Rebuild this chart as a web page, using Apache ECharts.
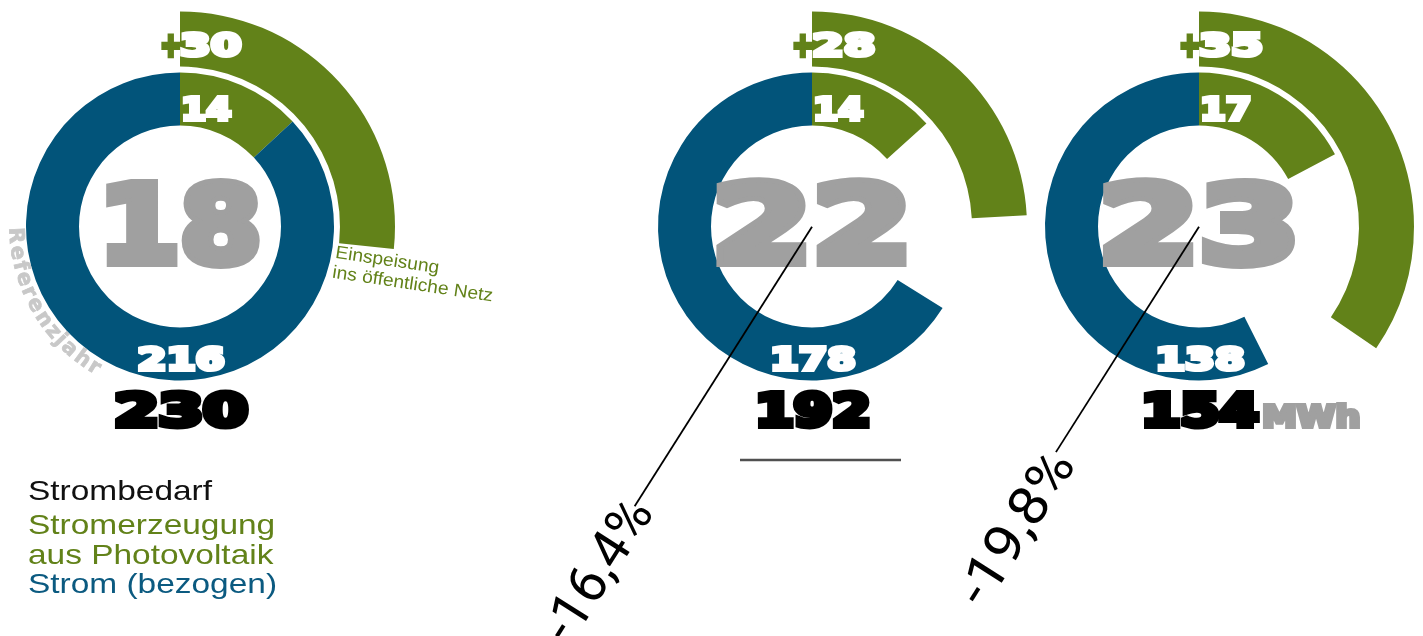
<!DOCTYPE html>
<html>
<head>
<meta charset="utf-8">
<script src="https://cdn.jsdelivr.net/npm/echarts@6/dist/echarts.min.js"></script>
<style>html,body{margin:0;padding:0;background:#fff}#c{width:1423px;height:636px}</style>
</head>
<body>
<div id="c"></div>
<script>
// ---------------- data ----------------
const periodLabels = ['Referenzjahr', '', ''];
const demand      = [230, 192, 154];   // Strombedarf (MWh)
const purchased   = [216, 178, 138];   // Strom (bezogen)
const pvSelfUse   = [14, 14, 17];      // PV-Strom selbst genutzt
const pvFeedIn    = [30, 28, 35];      // Einspeisung ins öffentliche Netz
const centerValue = [18, 22, 23];      // grosse graue Kennzahl
const changeLabels = ['', '-16,4%', '-19,8%'];
const unitLabel = 'MWh';
const feedInLabel = 'Einspeisung\nins öffentliche Netz';
const legendLines = ['Strombedarf', 'Stromerzeugung', 'aus Photovoltaik', 'Strom (bezogen)'];
// arc extents as drawn in the picture (degrees, clockwise from 12 o'clock)
const pvSelfUseArc = [47, 48, 62];
const purchasedArc = [313, 238, 206.7];
const pvFeedInArc  = [96, 87, 124.5];

// ---------------- layout / style ----------------
const CX = [180, 812, 1199], CY = 226.5;
const R_IN = [101, 154], R_OUT = [160, 215];
const BLUE = '#02547a', GREEN = '#628219', GRAY = '#a0a0a0', NONE = 'rgba(0,0,0,0)';
const HEAVY = '"DejaVu Sans"';

const mctx = document.createElement('canvas').getContext('2d');
function tw(text, font) { mctx.font = font; return mctx.measureText(text).width; }

const els = [];
// heavy "extended black" look: DejaVu Sans Bold + same-colour outline, stretched to width
function heavy(text, x, capCenterY, size, targetW, color, align, border, z) {
  const font = 'bold ' + size + 'px ' + HEAVY;
  const w = tw(text, font) + border;
  els.push({
    type: 'text', x: x, y: capCenterY + 0.085 * size, scaleX: targetW ? targetW / w : 1, z: z || 10, silent: true,
    style: { text: text, font: font, fill: color, stroke: color, lineWidth: border, lineJoin: 'round',
      align: align, textAlign: align, verticalAlign: 'middle', textVerticalAlign: 'middle' }
  });
}

const series = [];
for (let i = 0; i < 3; i++) {
  series.push({
    type: 'pie', center: [CX[i], CY], radius: R_IN, startAngle: 90, clockwise: true,
    silent: true, animation: false, label: { show: false }, labelLine: { show: false },
    emphasis: { disabled: true }, itemStyle: { borderWidth: 0 }, z: 2,
    data: [
      { name: 'PV', value: pvSelfUseArc[i], itemStyle: { color: GREEN } },
      { name: 'gap', value: 360 - pvSelfUseArc[i] - purchasedArc[i], itemStyle: { color: NONE } },
      { name: 'bezogen', value: purchasedArc[i], itemStyle: { color: BLUE } }
    ]
  });
  series.push({
    type: 'pie', center: [CX[i], CY], radius: R_OUT, startAngle: 90, clockwise: true,
    silent: true, animation: false, label: { show: false }, labelLine: { show: false },
    emphasis: { disabled: true }, itemStyle: { borderWidth: 0 }, z: 2,
    data: [
      { name: 'Einspeisung', value: pvFeedInArc[i], itemStyle: { color: GREEN } },
      { name: 'rest', value: 360 - pvFeedInArc[i], itemStyle: { color: NONE } }
    ]
  });
}

// label sizes (target widths of the extended heavy face)
const bigW = [174, 214, 215];
const selfW = [55, 55, 56];
const purW = [93, 91, 95];
const demW = [142, 123, 125];
const feedW = [67, 69, 70];

for (let i = 0; i < 3; i++) {
  heavy(String(centerValue[i]), CX[i], 225, 107, bigW[i], GRAY, 'center', 10, 10);
  heavy(String(pvSelfUse[i]), CX[i] + 1, 109, 32, selfW[i], '#fff', 'left', 4, 11);
  heavy(String(purchased[i]), CX[i] + 1, 359, 32, purW[i], '#fff', 'center', 4, 11);
  heavy(String(demand[i]), CX[i] + 1, 411, 44, demW[i], '#000', 'center', 6, 11);
  heavy('+', CX[i] + 1, 45, 32, 24, GREEN, 'right', 4.5, 11);
  heavy(String(pvFeedIn[i]), CX[i], 45, 32, feedW[i], '#fff', 'left', 4, 11);
}
heavy(unitLabel, 1262, 416.5, 31, 103, GRAY, 'left', 4, 11);

// Referenzjahr along the arc
(function () {
  const txt = periodLabels[0];
  const font = 'bold 21px ' + HEAVY;
  const chars = [...txt];
  const ws = chars.map(c => tw(c, font));
  let acc = 0;
  const cs = ws.map(w => { const c = acc + w / 2; acc += w; return c; });
  const p0 = 266.9, p1 = 211.3, r = 165;
  chars.forEach((ch, k) => {
    const t = (cs[k] - cs[0]) / (cs[cs.length - 1] - cs[0]);
    const phi = (p0 + (p1 - p0) * t) * Math.PI / 180;
    els.push({
      type: 'text', x: CX[0] + r * Math.sin(phi), y: CY - r * Math.cos(phi),
      rotation: -(phi - Math.PI), z: 5, silent: true,
      style: { text: ch, font: font, fill: '#c8c8c8', stroke: '#c8c8c8', lineWidth: 0.8,
        align: 'center', textAlign: 'center', verticalAlign: 'middle', textVerticalAlign: 'middle' }
    });
  });
})();

// Einspeisung label
(function () {
  const font = '18px "Liberation Sans"';
  const sx = 162 / tw('ins öffentliche Netz', font);
  els.push({
    type: 'text', x: 337, y: 243, rotation: -8.5 * Math.PI / 180, scaleX: sx, z: 5, silent: true,
    style: { text: feedInLabel, font: font, fill: GREEN, lineHeight: 20, align: 'left', textAlign: 'left',
      verticalAlign: 'top', textVerticalAlign: 'top' }
  });
})();

// legend text
(function () {
  const font = '28px "Liberation Sans"';
  const sx = 184 / tw(legendLines[0], font);
  const ys = [492.3, 526.5, 556, 585];
  const cols = ['#111', GREEN, GREEN, '#0b5a80'];
  legendLines.forEach((t, k) => {
    els.push({
      type: 'text', x: 28, y: ys[k], scaleX: sx, z: 5, silent: true,
      style: { text: t, font: font, fill: cols[k], align: 'left', textAlign: 'left',
        verticalAlign: 'middle', textVerticalAlign: 'middle' }
    });
  });
})();

// change connectors and labels
(function () {
  const ang = 57.6 * Math.PI / 180;
  const lens = [0, 331, 267];
  const textPos = [null, [601, 572], [1019, 530]];
  const textW = [0, 158, 172];
  for (let i = 1; i < 3; i++) {
    const x1 = CX[i], y1 = 226.7;
    els.push({
      type: 'line', z: 30, silent: true,
      shape: { x1: x1, y1: y1, x2: x1 - lens[i] * Math.cos(ang), y2: y1 + lens[i] * Math.sin(ang) },
      style: { stroke: '#000', lineWidth: 1.8 }
    });
    const font = '400 54px Roboto';
    els.push({
      type: 'text', x: textPos[i][0], y: textPos[i][1], rotation: ang, scaleX: textW[i] / tw(changeLabels[i], font),
      z: 30, silent: true,
      style: { text: changeLabels[i], font: font, fill: '#000', align: 'center', textAlign: 'center',
        verticalAlign: 'middle', textVerticalAlign: 'middle' }
    });
  }
  els.push({
    type: 'line', z: 30, silent: true,
    shape: { x1: 740, y1: 460, x2: 901, y2: 460 },
    style: { stroke: '#505050', lineWidth: 2.5 }
  });
})();

const chart = echarts.init(document.getElementById('c'), null, { renderer: 'canvas' });
chart.setOption({
  backgroundColor: '#fff',
  animation: false,
  series: series,
  graphic: { elements: els }
});
</script>
</body>
</html>
